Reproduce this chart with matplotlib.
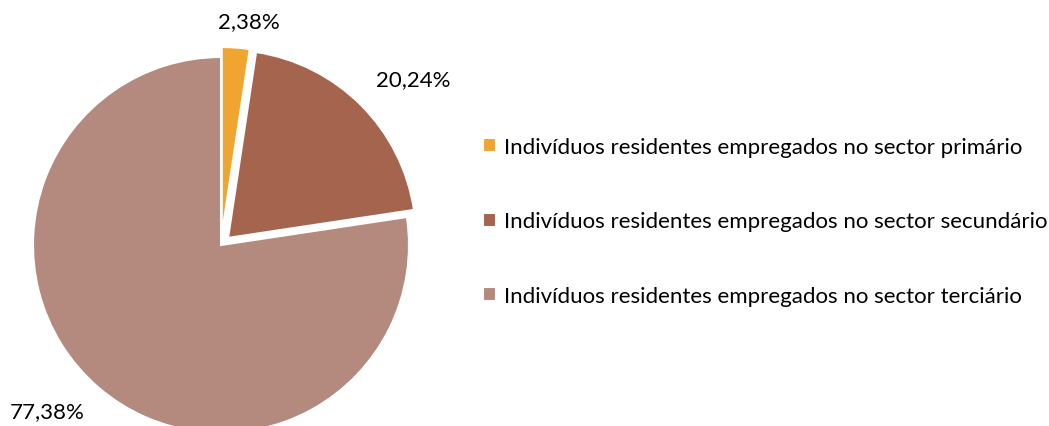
import matplotlib
matplotlib.use("Agg")
import matplotlib.pyplot as plt

categories = [
    "Indivíduos residentes empregados no sector primário",
    "Indivíduos residentes empregados no sector secundário",
    "Indivíduos residentes empregados no sector terciário",
]
values = [2.38, 20.24, 77.38]
value_labels = ["2,38%", "20,24%", "77,38%"]
colors = ["#F0A530", "#A5644E", "#B48A7E"]

W, H, DPI = 1049, 427, 100
plt.rcParams['font.family'] = ['Lato', 'DejaVu Sans']

fig = plt.figure(figsize=(W / DPI, H / DPI), dpi=DPI)
ax = fig.add_axes([0, 0, 1, 1])

center = (221, H - 246)
radius = 188
explode = [10, 10, 0]

wedges, _ = ax.pie(values, colors=colors, startangle=90, counterclock=False,
                   center=center, radius=radius, explode=explode,
                   wedgeprops=dict(edgecolor="white", linewidth=1.5),
                   frame=True)
for w in wedges:
    w.set_clip_on(False)
ax.set_xlim(0, W)
ax.set_ylim(0, H)
ax.set_aspect("equal")
ax.axis("off")

label_pos = [(249, H - 22), (413, H - 80), (47, H - 412)]
fs = 16.0
for (x, y), t in zip(label_pos, value_labels):
    ax.text(x, y, t, ha="center", va="center", fontsize=fs, color="#000000")

leg = ax.legend(wedges, categories, loc="upper left",
                bbox_to_anchor=(483 / W, 1 - 138 / H), bbox_transform=fig.transFigure,
                frameon=False, fontsize=fs, handlelength=0.6, handleheight=0.6,
                handletextpad=0.35, labelspacing=2.45, borderpad=0, borderaxespad=0)

fig.savefig("out.png", dpi=DPI)
